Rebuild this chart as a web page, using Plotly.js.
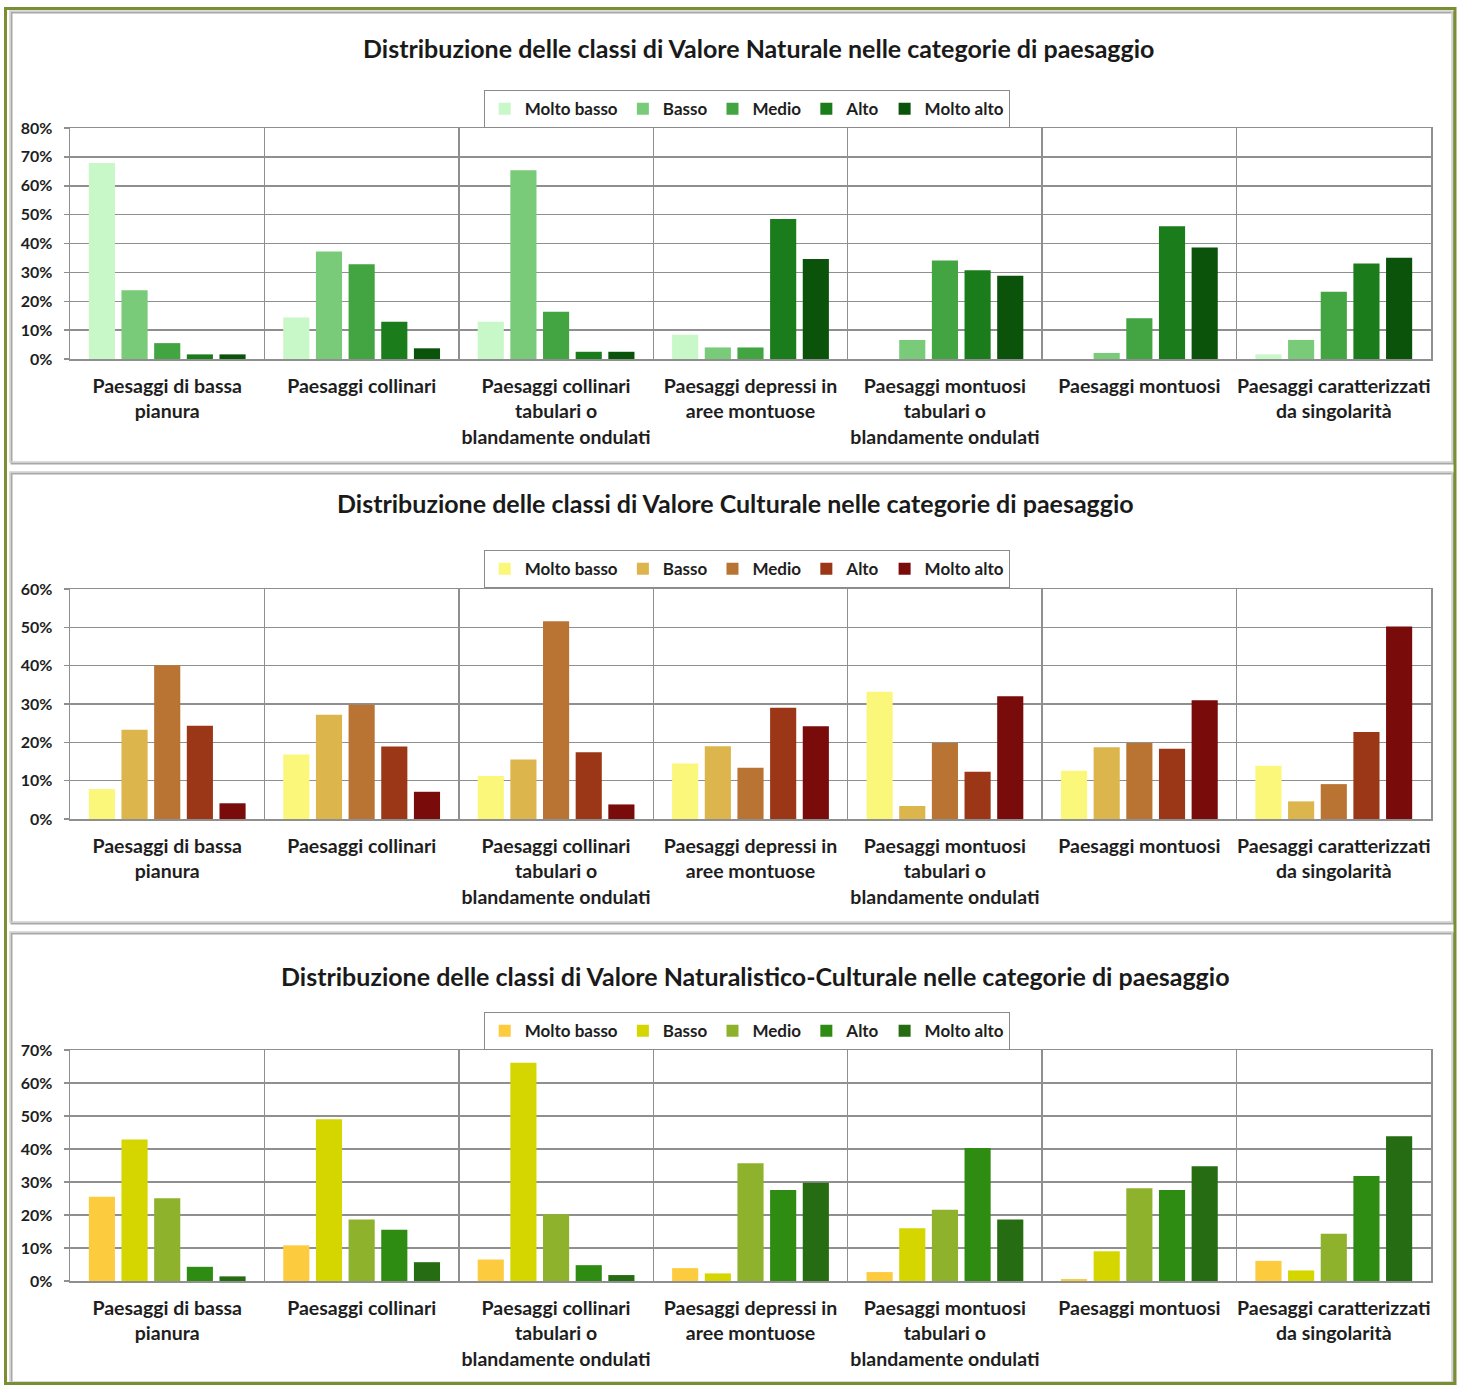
<!DOCTYPE html>
<html>
<head>
<meta charset="utf-8">
<script src="https://cdn.plot.ly/plotly-3.0.1.min.js"></script>
<style>
  html, body { margin: 0; padding: 0; background: #ffffff; }
  #chart { width: 1461px; height: 1385px; }
</style>
</head>
<body>
<div id="chart"></div>
<script>
// ---------- DATA ----------
const categories = [
  "Paesaggi di bassa<br>pianura",
  "Paesaggi collinari",
  "Paesaggi collinari<br>tabulari o<br>blandamente ondulati",
  "Paesaggi depressi in<br>aree montuose",
  "Paesaggi montuosi<br>tabulari o<br>blandamente ondulati",
  "Paesaggi montuosi",
  "Paesaggi caratterizzati<br>da singolarità"
];
const classes = ["Molto basso", "Basso", "Medio", "Alto", "Molto alto"];

const titles = [
  "Distribuzione delle classi di Valore Naturale nelle categorie di paesaggio",
  "Distribuzione delle classi di Valore Culturale nelle categorie di paesaggio",
  "Distribuzione delle classi di Valore Naturalistico-Culturale nelle categorie di paesaggio"
];

// Valore Naturale (%), one array per class, ordered as categories
const naturaleMoltoBasso = [67.9, 14.4, 12.9, 8.4, 0, 0, 1.6];
const naturaleBasso      = [23.8, 37.2, 65.4, 4.0, 6.6, 2.1, 6.6];
const naturaleMedio      = [5.5, 32.8, 16.4, 4.0, 34.1, 14.1, 23.3];
const naturaleAlto       = [1.6, 12.9, 2.5, 48.5, 30.7, 46.0, 33.1];
const naturaleMoltoAlto  = [1.6, 3.7, 2.5, 34.6, 28.8, 38.6, 35.1];

// Valore Culturale (%)
const culturaleMoltoBasso = [7.8, 16.8, 11.2, 14.5, 33.2, 12.6, 13.9];
const culturaleBasso      = [23.3, 27.2, 15.5, 19.0, 3.4, 18.7, 4.6];
const culturaleMedio      = [40.1, 29.8, 51.6, 13.4, 19.8, 19.8, 9.1];
const culturaleAlto       = [24.3, 18.9, 17.4, 29.0, 12.3, 18.3, 22.7];
const culturaleMoltoAlto  = [4.1, 7.1, 3.8, 24.2, 32.0, 31.0, 50.2];

// Valore Naturalistico-Culturale (%)
const natcultMoltoBasso = [25.5, 10.8, 6.5, 3.9, 2.7, 0.6, 6.1];
const natcultBasso      = [42.9, 49.0, 66.1, 2.3, 16.0, 9.0, 3.2];
const natcultMedio      = [25.1, 18.6, 20.2, 35.7, 21.6, 28.1, 14.3];
const natcultAlto       = [4.3, 15.5, 4.8, 27.6, 40.3, 27.6, 31.8];
const natcultMoltoAlto  = [1.4, 5.7, 1.8, 29.8, 18.6, 34.8, 43.9];

const yMax = [80, 60, 70];

// ---------- STYLE ----------
const colorsNaturale  = ["#c8f7c8", "#79cb79", "#42a542", "#1b7c1b", "#0b520b"];
const colorsCulturale = ["#fbf77a", "#dcb54c", "#b97434", "#9b3616", "#7a0b0b"];
const colorsNatcult   = ["#fdcb3e", "#d5d500", "#8fb22d", "#2f8c12", "#266c12"];

const W = 1461, H = 1385;
const px = v => v / W;
const py = v => 1 - v / H;

const panels = [
  { series: [naturaleMoltoBasso, naturaleBasso, naturaleMedio, naturaleAlto, naturaleMoltoAlto],
    colors: colorsNaturale, top: 128, bottom: 359, titleY: 48, titleX: 758, legendY: 90,
    box: [10, 11, 1452, 462] },
  { series: [culturaleMoltoBasso, culturaleBasso, culturaleMedio, culturaleAlto, culturaleMoltoAlto],
    colors: colorsCulturale, top: 589, bottom: 819, titleY: 503, titleX: 735, legendY: 550,
    box: [10, 472, 1452, 922] },
  { series: [natcultMoltoBasso, natcultBasso, natcultMedio, natcultAlto, natcultMoltoAlto],
    colors: colorsNatcult, top: 1050, bottom: 1281, titleY: 976, titleX: 755, legendY: 1012,
    box: [10, 932, 1452, 1382] }
];

const FONT = "Lato, 'Open Sans', Arial, sans-serif";
const gridColor = "#8f8f8f";

const traces = [];
const layout = {
  width: W, height: H,
  margin: { l: 0, r: 0, t: 0, b: 0 },
  paper_bgcolor: "#ffffff",
  plot_bgcolor: "#ffffff",
  barmode: "group",
  bargap: 0.16,
  bargroupgap: 0.2,
  font: { family: FONT, color: "#1a1a1a" },
  showlegend: true,
  shapes: [],
  annotations: []
};

panels.forEach((p, i) => {
  const sfx = i === 0 ? "" : String(i + 1);
  const legendName = "legend" + sfx;
  classes.forEach((cls, k) => {
    traces.push({
      type: "bar",
      name: cls,
      x: categories,
      y: p.series[k],
      xaxis: "x" + sfx,
      yaxis: "y" + sfx,
      legend: legendName,
      marker: { color: p.colors[k], line: { width: 0 } },
      hoverinfo: "x+y+name"
    });
  });

  layout["xaxis" + sfx] = {
    domain: [px(70), px(1431)],
    anchor: "y" + sfx,
    type: "category",
    tickson: "boundaries",
    tickangle: 0,
    automargin: false,
    showgrid: true,
    gridcolor: gridColor,
    gridwidth: 1.5,
    showline: true,
    linecolor: gridColor,
    linewidth: 1.5,
    mirror: true,
    ticks: "",
    ticklabelstandoff: 9,
    tickfont: { family: FONT, size: 19.5, color: "#1e1e1e", weight: 700 },
    fixedrange: true
  };
  layout["yaxis" + sfx] = {
    domain: [py(p.bottom), py(p.top)],
    anchor: "x" + sfx,
    range: [0, yMax[i]],
    dtick: 10,
    ticksuffix: "%",
    automargin: false,
    showgrid: true,
    gridcolor: gridColor,
    gridwidth: 1.5,
    zeroline: false,
    showline: true,
    linecolor: gridColor,
    linewidth: 1.5,
    mirror: true,
    ticks: "outside",
    ticklen: 5,
    tickcolor: gridColor,
    tickwidth: 1.5,
    ticklabelstandoff: 8,
    tickfont: { family: FONT, size: 16, color: "#1e1e1e", weight: 700 },
    fixedrange: true
  };
  layout[legendName] = {
    orientation: "h",
    x: px(747), xanchor: "center",
    y: py(p.legendY), yanchor: "top",
    bgcolor: "#ffffff",
    bordercolor: "#8a8a8a",
    borderwidth: 1.2,
    itemwidth: 30,
    tracegroupgap: 0,
    font: { family: FONT, size: 17, color: "#1e1e1e", weight: 700 },
    itemclick: false, itemdoubleclick: false
  };

  // panel frame (soft gray with shadow)
  const b = p.box;
  layout.shapes.push({
    type: "rect", xref: "paper", yref: "paper",
    x0: px(b[0] + 1.5), x1: px(b[2] + 1.5), y0: py(b[3] + 1.5), y1: py(b[1] + 1.5),
    line: { color: "#a8a8a8", width: 2 }, layer: "below"
  });
  layout.shapes.push({
    type: "rect", xref: "paper", yref: "paper",
    x0: px(b[0]), x1: px(b[2]), y0: py(b[3]), y1: py(b[1]),
    line: { color: "#cfcfcf", width: 1.5 }, layer: "below"
  });

  layout.annotations.push({
    xref: "paper", yref: "paper",
    x: px(p.titleX), y: py(p.titleY),
    xanchor: "center", yanchor: "middle",
    text: titles[i],
    showarrow: false,
    font: { family: FONT, size: 25, color: "#1a1a1a", weight: 700 }
  });
});

// outer olive frame
layout.shapes.push({
  type: "rect", xref: "paper", yref: "paper",
  x0: px(5.5), x1: px(1455), y0: py(1383.5), y1: py(8.5),
  line: { color: "#7a8f33", width: 3 }, layer: "below"
});

Plotly.newPlot("chart", traces, layout, { displayModeBar: false, staticPlot: true });
</script>
</body>
</html>
